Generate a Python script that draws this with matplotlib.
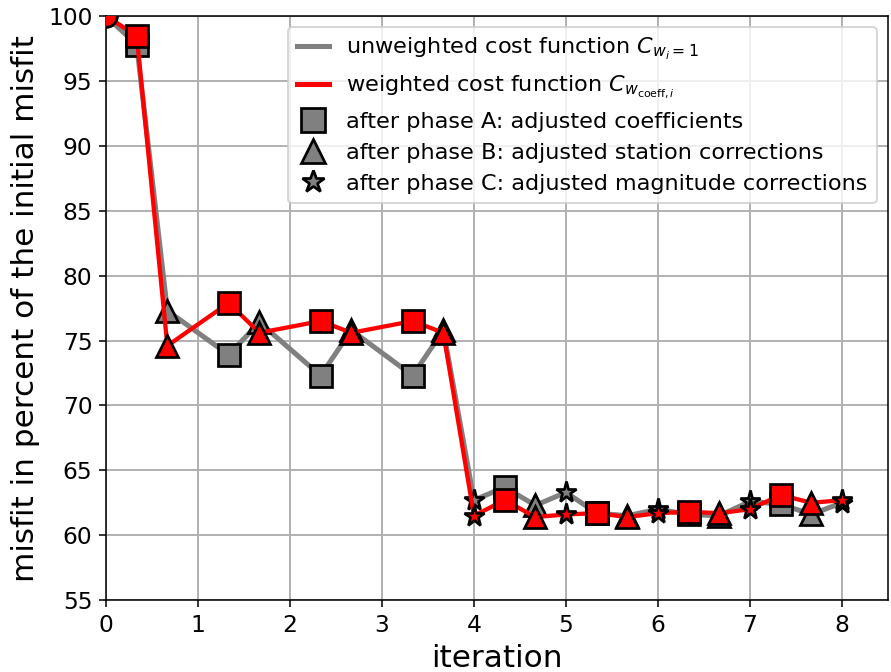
import matplotlib
matplotlib.use("Agg")
import matplotlib.pyplot as plt
from matplotlib.lines import Line2D

# iteration positions: integer = after phase C, +1/3 = after phase A, +2/3 = after phase B
x_pos = [0, 1/3, 2/3, 4/3, 5/3, 7/3, 8/3, 10/3, 11/3,
         4, 13/3, 14/3, 5, 16/3, 17/3, 6, 19/3, 20/3, 7, 22/3, 23/3, 8]
phase = ["0", "A", "B", "A", "B", "A", "B", "A", "B",
         "C", "A", "B", "C", "A", "B", "C", "A", "B", "C", "A", "B", "C"]

misfit_unweighted = [100, 97.8, 77.3, 73.9, 76.4, 72.3, 75.8, 72.3, 75.8,
                     62.7, 63.7, 62.3, 63.3, 61.7, 61.5, 62.0, 61.6, 61.5,
                     62.6, 62.4, 61.6, 62.5]
misfit_weighted = [100, 98.5, 74.6, 77.9, 75.6, 76.5, 75.6, 76.5, 75.6,
                   61.5, 62.7, 61.4, 61.6, 61.7, 61.4, 61.7, 61.8, 61.7,
                   62.0, 63.1, 62.5, 62.7]

markers = {"0": "o", "A": "s", "B": "^", "C": "*"}
msize = {"0": 11, "A": 11, "B": 11, "C": 11}

fig = plt.figure(figsize=(891 / 140, 672 / 140), dpi=140)
ax = fig.add_axes([0.119, 0.107, 0.8776, 0.869])


def draw(y, color, lw):
    ax.plot(x_pos, y, color=color, lw=lw, zorder=3)
    for xi, yi, ph in zip(x_pos, y, phase):
        ax.plot(xi, yi, marker=markers[ph], ms=msize[ph], mfc=color,
                mec="black", mew=1.4, ls="none", zorder=3)


draw(misfit_unweighted, "gray", 2.6)
draw(misfit_weighted, "red", 2.2)

ax.set_xlim(0, 8.5)
ax.set_ylim(55, 100)
ax.set_xticks(range(9))
ax.set_yticks(range(55, 101, 5))
ax.grid(True, color="#b0b0b0", lw=1)
ax.set_axisbelow(True)
ax.tick_params(labelsize=12)
ax.set_xlabel("iteration", fontsize=16)
ax.set_ylabel("misfit in percent of the initial misfit", fontsize=16)

handles = [
    Line2D([], [], color="gray", lw=2.6),
    Line2D([], [], color="red", lw=2.6),
    Line2D([], [], marker="s", ms=12, mfc="gray", mec="black", mew=1.4, ls="none"),
    Line2D([], [], marker="^", ms=12, mfc="gray", mec="black", mew=1.4, ls="none"),
    Line2D([], [], marker="*", ms=12, mfc="gray", mec="black", mew=1.4, ls="none"),
]
labels = [
    r"unweighted cost function $C_{w_i=1}$",
    r"weighted cost function $C_{w_{\mathrm{coeff},i}}$",
    "after phase A: adjusted coefficients",
    "after phase B: adjusted station corrections",
    "after phase C: adjusted magnitude corrections",
]
ax.legend(handles, labels, loc="upper right", fontsize=11.5, handlelength=1.4)

fig.savefig("out.png", dpi=140)
